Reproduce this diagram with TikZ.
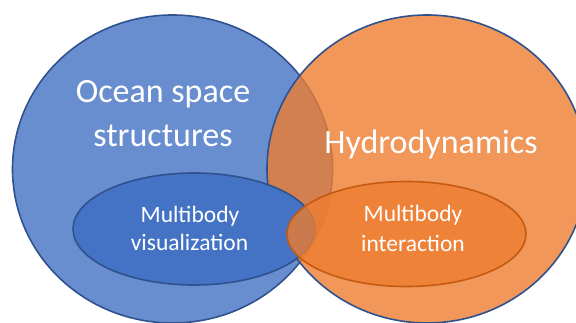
\documentclass[tikz,border=0pt]{standalone}
\usepackage{fontspec}
\setmainfont{Carlito}
\usetikzlibrary{shapes.geometric}
\definecolor{accblue}{HTML}{4472C4}
\definecolor{accorange}{HTML}{ED7D31}
\definecolor{edgeblue}{HTML}{2F528F}
\definecolor{edgeorange}{HTML}{C55A11}
\tikzset{
  setshape/.style={ellipse, inner sep=0pt, line width=1.6pt},
  bigtext/.style={text=white, anchor=base, inner sep=0pt, font=\fontsize{34}{40}\selectfont},
  smalltext/.style={text=white, anchor=base, inner sep=0pt, font=\fontsize{23.5}{28}\selectfont},
}
\begin{document}
\begin{tikzpicture}[x=1pt, y=-1pt]
  \useasboundingbox (0,0) rectangle (576,323);
  \begin{scope}
    \clip (0,0) rectangle (576,323);
    % the two large sets
    \node[setshape, draw=edgeblue, fill=accblue, fill opacity=0.8,
          minimum width=320pt, minimum height=308pt] (ocean) at (172.5,169) {};
    \node[setshape, draw=edgeblue, fill=accorange, fill opacity=0.8,
          minimum width=320pt, minimum height=308pt] (hydro) at (427,169) {};
    % the two inner subsets
    \node[setshape, draw=edgeblue, fill=accblue,
          minimum width=242pt, minimum height=112pt] (vis) at (194,229) {};
    \node[setshape, draw=edgeorange, fill=accorange, fill opacity=0.8,
          minimum width=239pt, minimum height=105pt] (inter) at (406.5,234) {};
  \end{scope}
  % labels
  \node[bigtext] (oceanA) at (163,102.7) {Ocean space};
  \node[bigtext] (oceanB) at (163,147) {structures};
  \node[bigtext] (hydroA) at (431,153.3) {Hydrodynamics};
  \node[smalltext] (visA) at (190,222.3) {Multibody};
  \node[smalltext] (visB) at (189.5,250.7) {visualization};
  \node[smalltext] (interA) at (413,221.7) {Multibody};
  \node[smalltext] (interB) at (413,251.7) {interaction};
\end{tikzpicture}
\end{document}
